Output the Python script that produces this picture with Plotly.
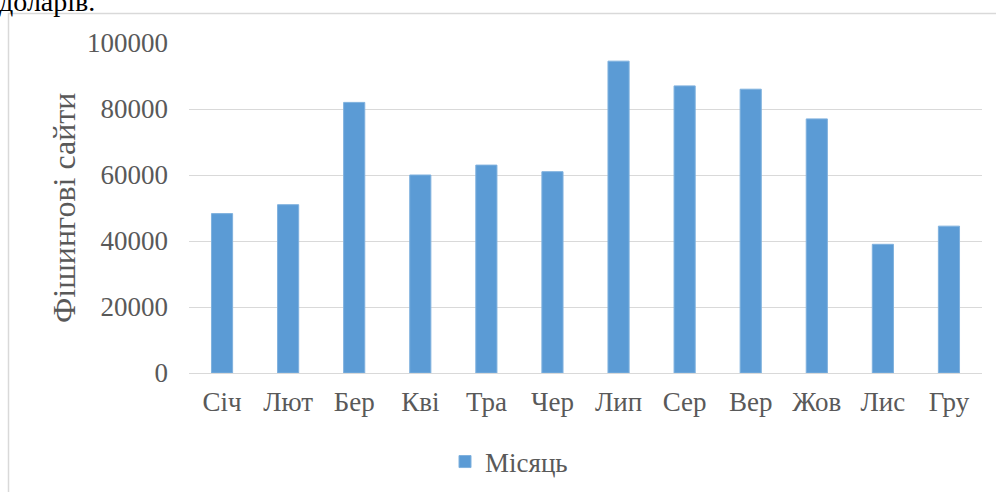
import plotly.graph_objects as go

# Monthly counts of phishing sites
months = ["Січ", "Лют", "Бер", "Кві", "Тра", "Чер", "Лип", "Сер", "Вер", "Жов", "Лис", "Гру"]
phishing_sites = [48300, 51000, 82000, 60000, 63000, 61000, 94500, 87000, 86000, 77000, 39000, 44500]
series_name = "Місяць"
y_ticks = [0, 20000, 40000, 60000, 80000, 100000]

W, H = 996, 492
ML, MR, MT, MB = 189, 14, 43, 119
PW = W - ML - MR
PH = H - MT - MB


def px_x(p):
    return (p - ML) / PW


def px_y(p):
    return (H - MB - p) / PH


SERIF = "Liberation Serif"
GREY = "#595959"

fig = go.Figure(
    go.Bar(
        x=months,
        y=phishing_sites,
        name=f"<span style='font-family:{SERIF}'>{series_name}</span>",
        marker=dict(color="#5B9BD5", line=dict(color="#7fb1de", width=1)),
        showlegend=True,
    )
)

fig.update_layout(
    width=W,
    height=H,
    margin=dict(l=ML, r=MR, t=MT, b=MB, autoexpand=False),
    paper_bgcolor="white",
    plot_bgcolor="white",
    bargap=0.68,
    font=dict(family=SERIF, color=GREY, size=27),
    showlegend=True,
    legend=dict(
        orientation="h",
        x=px_x(445),
        xanchor="left",
        y=px_y(462),
        yanchor="middle",
        font=dict(family=SERIF, size=27, color=GREY),
        itemwidth=30,
        bgcolor="rgba(0,0,0,0)",
    ),
    xaxis=dict(
        showgrid=False,
        showline=False,
        zeroline=False,
        ticks="",
        tickfont=dict(family=SERIF, size=27, color=GREY),
        ticklabelstandoff=10,
        automargin=False,
    ),
    yaxis=dict(
        range=[0, 100000],
        tickvals=y_ticks,
        tickformat="d",
        showgrid=True,
        gridcolor="#d9d9d9",
        gridwidth=1.3,
        zeroline=True,
        zerolinecolor="#d9d9d9",
        zerolinewidth=1.3,
        showline=False,
        ticks="",
        tickfont=dict(family=SERIF, size=27, color=GREY),
        ticklabelstandoff=20,
        automargin=False,
    ),
)

# Vertical axis title
fig.add_annotation(
    text="Фішингові сайти",
    textangle=-90,
    xref="paper", yref="paper",
    x=px_x(64), y=0.5,
    xanchor="center", yanchor="middle",
    showarrow=False,
    font=dict(family=SERIF, size=32, color=GREY),
)

# Tail of the preceding paragraph above the chart frame
fig.add_annotation(
    text="доларів.",
    xref="paper", yref="paper",
    x=px_x(-3), y=px_y(19),
    xanchor="left", yanchor="bottom",
    showarrow=False,
    font=dict(family=SERIF, size=28, color="black"),
)

# Chart frame (left and top edges)
fx = px_x(8.5)
fy = px_y(13.5)
fig.add_shape(
    type="path",
    xref="paper", yref="paper",
    path=f"M {fx} {px_y(500)} L {fx} {fy} L {px_x(1010)} {fy}",
    line=dict(color="#d9d9d9", width=1.5),
    layer="below",
)

fig.write_html("out.html")
